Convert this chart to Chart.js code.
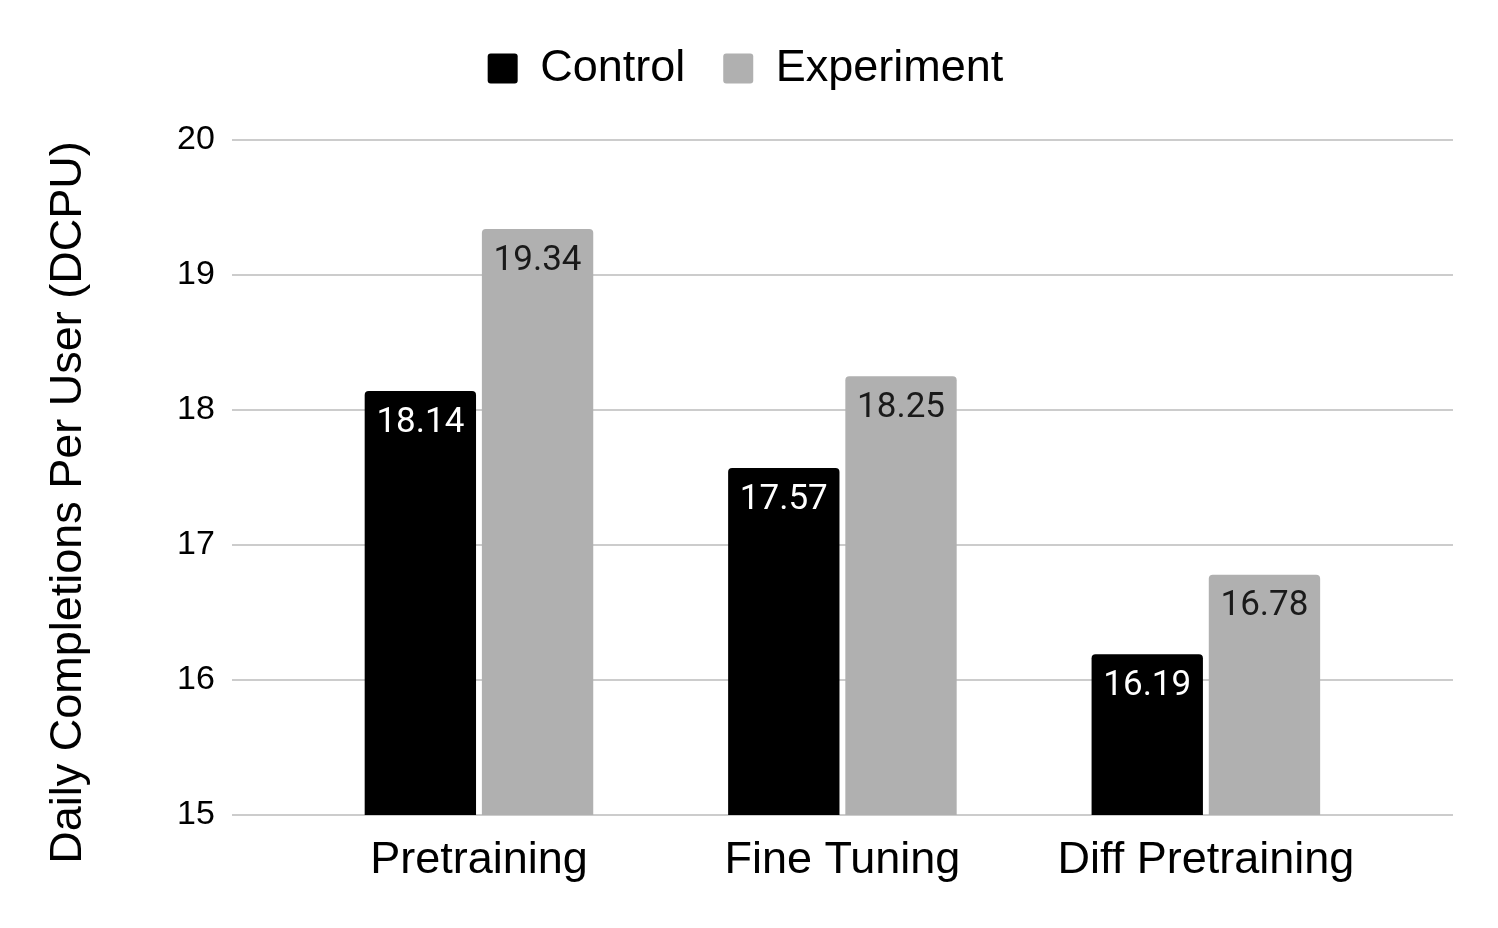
<!DOCTYPE html>
<html>
<head>
<meta charset="utf-8">
<script src="https://cdn.jsdelivr.net/npm/chart.js@4"></script>
<style>
  html, body { margin: 0; padding: 0; background: #fff; }
  #wrap { width: 1498px; height: 928px; }
</style>
</head>
<body>
<div id="wrap"><canvas id="dcpuChart"></canvas></div>
<script>
const categories = ['Pretraining', 'Fine Tuning', 'Diff Pretraining'];
const controlValues = [18.14, 17.57, 16.19];
const experimentValues = [19.34, 18.25, 16.78];
const yTicks = [15, 16, 17, 18, 19, 20];

// value labels drawn inside the top of each bar
const barLabels = {
    id: 'barLabels',
    afterDatasetsDraw(chart) {
        const ctx = chart.ctx;
        ctx.save();
        ctx.font = '35px Roboto';
        ctx.textAlign = 'center';
        ctx.textBaseline = 'middle';
        chart.data.datasets.forEach((ds, i) => {
            chart.getDatasetMeta(i).data.forEach((bar, j) => {
                ctx.fillStyle = i === 0 ? '#ffffff' : '#1a1a1a';
                ctx.fillText(ds.data[j].y.toFixed(2), bar.x, bar.y + 32);
            });
        });
        ctx.restore();
    }
};

// extra room between legend and plot
const legendGap = {
    id: 'legendGap',
    beforeInit(chart) {
        const fit = chart.legend.fit;
        chart.legend.fit = function () {
            fit.bind(chart.legend)();
            this.height += 39;
        };
    }
};

const toPoints = (vals) => vals.map((v, i) => ({ x: i, y: v }));

document.addEventListener('DOMContentLoaded', function () {
    const ctx = document.getElementById('dcpuChart').getContext('2d');
    new Chart(ctx, {
        type: 'bar',
        data: {
            datasets: [{
                label: 'Control',
                data: toPoints(controlValues),
                backgroundColor: '#000000',
                borderRadius: { topLeft: 4, topRight: 4 },
                borderSkipped: 'start'
            }, {
                label: 'Experiment',
                data: toPoints(experimentValues),
                backgroundColor: '#b0b0b0',
                borderRadius: { topLeft: 4, topRight: 4 },
                borderSkipped: 'start'
            }]
        },
        options: {
            responsive: true,
            maintainAspectRatio: false,
            animation: false,
            categoryPercentage: 0.645,
            barPercentage: 0.95,
            layout: { padding: { top: 8, right: 45, left: 38, bottom: 29 } },
            plugins: {
                tooltip: { enabled: false },
                legend: {
                    position: 'top',
                    labels: {
                        boxWidth: 30,
                        boxHeight: 30,
                        useBorderRadius: true,
                        borderRadius: 3,
                        padding: 38,
                        color: '#000',
                        font: { family: 'Liberation Sans', size: 45 }
                    }
                }
            },
            scales: {
                x: {
                    type: 'linear',
                    offset: false,
                    min: -0.68,
                    max: 2.68,
                    grid: { display: false },
                    border: { display: false },
                    afterBuildTicks: (axis) => {
                        axis.ticks = categories.map((c, i) => ({ value: i }));
                    },
                    ticks: {
                        autoSkip: false,
                        maxRotation: 0,
                        color: '#000',
                        padding: 11,
                        font: { family: 'Liberation Sans', size: 45 },
                        callback: (v) => categories[v]
                    }
                },
                y: {
                    min: yTicks[0],
                    max: yTicks[yTicks.length - 1],
                    grid: { color: '#cccccc', lineWidth: 2, drawTicks: false },
                    border: { display: false },
                    ticks: {
                        stepSize: 1,
                        color: '#000',
                        padding: 17,
                        font: { family: 'Liberation Sans', size: 34 }
                    },
                    title: {
                        display: true,
                        // trailing spaces nudge the centred title a little lower
                        text: 'Daily Completions Per User (DCPU)    ',
                        color: '#000',
                        padding: { top: 4, bottom: 64 },
                        font: { family: 'Liberation Sans', size: 45 }
                    }
                }
            }
        },
        plugins: [barLabels, legendGap]
    });
});
</script>
</body>
</html>
